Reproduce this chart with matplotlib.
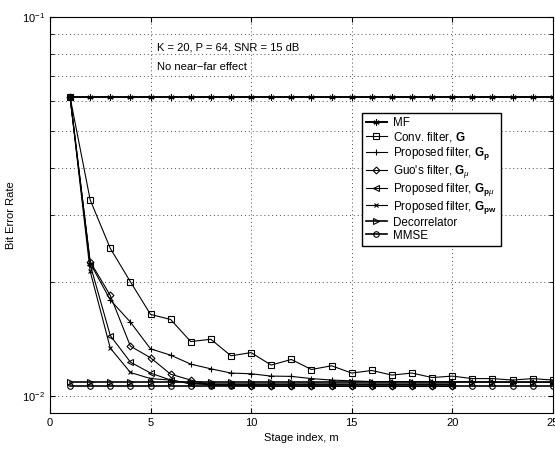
import matplotlib
matplotlib.use('Agg')
import matplotlib.pyplot as plt
import numpy as np
from matplotlib.ticker import LogLocator, NullFormatter

# данные
stages = list(range(1, 26))
ber_mf = [0.0615] * 25
ber_conv = [0.0615, 0.0329, 0.0245, 0.0200, 0.0164, 0.0159, 0.0139, 0.0141, 0.01275, 0.0130,
            0.01205, 0.01247, 0.01173, 0.0120, 0.01148, 0.01166, 0.01134, 0.01148, 0.01117, 0.01127,
            0.0111, 0.0111, 0.0110, 0.0111, 0.0110]
ber_gp = [0.0615, 0.0224, 0.0179, 0.01565, 0.0133, 0.0128, 0.01212, 0.01178, 0.01148, 0.01143,
          0.01127, 0.01125, 0.0111, 0.0110, 0.01095, 0.0109, 0.0109, 0.0109, 0.01088, 0.01088,
          0.01087, 0.01087, 0.01086, 0.01086, 0.01085]
ber_guo = [0.0615, 0.0226, 0.0184, 0.01352, 0.0126, 0.0114, 0.0110, 0.01068, 0.01065, 0.01062,
           0.0106, 0.0106, 0.0106, 0.0106, 0.01058, 0.01058, 0.01058, 0.01058, 0.01058, 0.01058]
ber_gpmu = [0.0615, 0.0222, 0.01442, 0.01227, 0.01148, 0.0110, 0.01075, 0.0107, 0.0107, 0.0107,
            0.0107, 0.0107, 0.0107, 0.0107, 0.0107, 0.0107, 0.0107, 0.0107, 0.0107, 0.0107]
ber_gpw = [0.0615, 0.0213, 0.01336, 0.01152, 0.0111, 0.0110, 0.01078, 0.01075, 0.01075, 0.01075,
           0.01075, 0.01075, 0.01075, 0.01075, 0.01075, 0.01075, 0.01075, 0.01075, 0.01075, 0.01075]
ber_decorr = [0.01084] * 25
ber_mmse = [0.01058] * 25

series = [
    ('MF', ber_mf, (6, 2, 0), 1.4, 4.5),
    ('Conv. filter, $\\mathbf{G}$', ber_conv, 's', 0.8, 4),
    ('Proposed filter, $\\mathbf{G}_{\\mathbf{p}}$', ber_gp, '+', 0.8, 5),
    ("Guo's filter, $\\mathbf{G}_{\\mu}$", ber_guo, 'D', 0.8, 3.5),
    ('Proposed filter, $\\mathbf{G}_{\\mathbf{p}\\mu}$', ber_gpmu, '<', 0.8, 4),
    ('Proposed filter, $\\mathbf{G}_{\\mathbf{pw}}$', ber_gpw, 'x', 0.8, 3.5),
    ('Decorrelator', ber_decorr, '>', 1.2, 4),
    ('MMSE', ber_mmse, 'o', 1.2, 4),
]

plt.rcParams['font.family'] = ['Liberation Sans', 'DejaVu Sans']
plt.rcParams['mathtext.fontset'] = 'custom'
plt.rcParams['mathtext.rm'] = 'Liberation Sans'
plt.rcParams['mathtext.bf'] = 'Liberation Sans:bold'
plt.rcParams['mathtext.it'] = 'Liberation Sans:italic'

fig = plt.figure(figsize=(5.55, 4.49), dpi=100)
ax = fig.add_axes([0.090, 0.080, 0.906, 0.882])

for label, vals, mk, lw, ms in series:
    ax.plot(stages[:len(vals)], vals, color='black', lw=lw, marker=mk,
            markersize=ms, markerfacecolor='none', markeredgecolor='black',
            markeredgewidth=0.8, label=label)

ax.set_yscale('log')
ax.set_xlim(0, 25)
ax.set_ylim(0.009, 0.1)
ax.set_xticks([0, 5, 10, 15, 20, 25])
ax.yaxis.set_major_locator(LogLocator(base=10, numticks=5))
ax.yaxis.set_minor_locator(LogLocator(base=10, subs=np.arange(2, 10), numticks=20))
ax.yaxis.set_minor_formatter(NullFormatter())
ax.tick_params(which='both', direction='in', labelsize=8, top=True, right=True)
ax.tick_params(which='minor', length=3)
grid_style = dict(linestyle=(0, (1, 3)), color='0.3', lw=0.7)
ax.grid(True, which='major', **grid_style)
ax.grid(True, which='minor', axis='y', **grid_style)

ax.set_xlabel('Stage index, m', fontsize=8)
ax.set_ylabel('Bit Error Rate', fontsize=8)

ax.text(5.3, 0.0815, 'K = 20, P = 64, SNR = 15 dB', fontsize=8)
ax.text(5.3, 0.0725, 'No near\u2212far effect', fontsize=8)

leg = ax.legend(loc='upper left', bbox_to_anchor=(0.620, 0.758), fontsize=8.4,
                frameon=True, fancybox=False, edgecolor='black', framealpha=1,
                handlelength=1.8, labelspacing=0.08, borderpad=0.35, handletextpad=0.5,
                borderaxespad=0)
leg.get_frame().set_linewidth(1.0)

plt.savefig('out.png', dpi=100)
plt.close()
